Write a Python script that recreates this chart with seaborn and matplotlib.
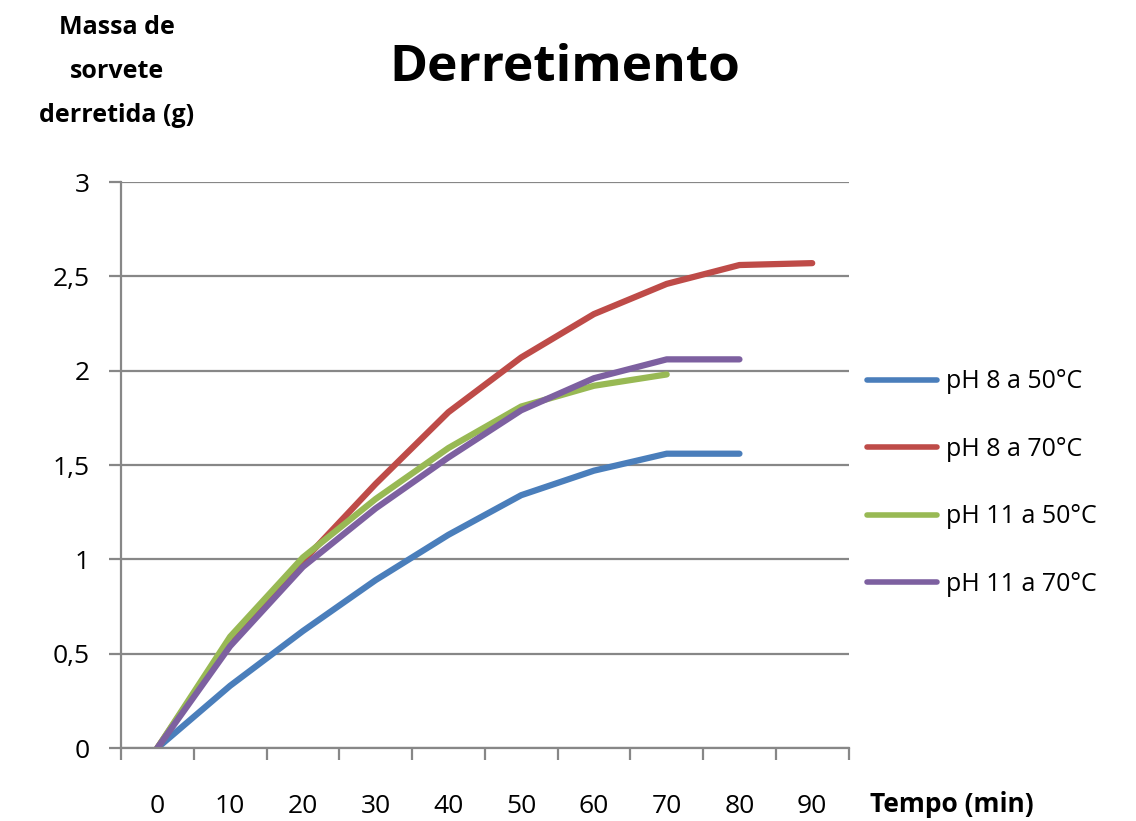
import pandas as pd
import seaborn as sns
import matplotlib.pyplot as plt
from matplotlib.ticker import FuncFormatter, FixedLocator

# --- dados ---
tempos = ['0', '10', '20', '30', '40', '50', '60', '70', '80', '90']
ph8_50 = [0, 0.33, 0.62, 0.89, 1.13, 1.34, 1.47, 1.56, 1.56]
ph8_70 = [0, 0.57, 0.99, 1.40, 1.78, 2.07, 2.30, 2.46, 2.56, 2.57]
ph11_50 = [0, 0.59, 1.01, 1.32, 1.59, 1.81, 1.92, 1.98]
ph11_70 = [0, 0.54, 0.96, 1.27, 1.54, 1.79, 1.96, 2.06, 2.06]

series = {
    'pH 8 a 50°C': ph8_50,
    'pH 8 a 70°C': ph8_70,
    'pH 11 a 50°C': ph11_50,
    'pH 11 a 70°C': ph11_70,
}
cores = ['#4A7EBB', '#BE4B48', '#98B954', '#7D60A0']

linhas = []
for nome, valores in series.items():
    for t, v in zip(tempos, valores):
        linhas.append({'Tempo': t, 'Massa': v, 'Serie': nome})
df = pd.DataFrame(linhas)

# --- grafico ---
sns.set_style('white')
plt.rcParams['font.family'] = ['Open Sans', 'DejaVu Sans']
plt.rcParams['text.color'] = 'black'

fig = plt.figure(figsize=(11.36, 8.21), dpi=100)
ax = fig.add_axes([0.1065, 0.0889, 0.6405, 0.6894])

sns.lineplot(data=df, x='Tempo', y='Massa', hue='Serie', palette=cores,
             linewidth=4.5, ax=ax, sort=False, solid_capstyle='round')

cinza = '#878787'
ax.set_xlim(-0.5, len(tempos) - 0.5)
ax.set_ylim(0, 3)
ax.set_yticks([0, 0.5, 1, 1.5, 2, 2.5, 3])
ax.yaxis.set_major_formatter(FuncFormatter(lambda v, p: f'{v:g}'.replace('.', ',')))
ax.grid(axis='y', color=cinza, linewidth=1.6)
ax.set_axisbelow(True)

ax.xaxis.set_minor_locator(FixedLocator([i - 0.5 for i in range(len(tempos) + 1)]))
ax.tick_params(axis='x', which='major', bottom=True, length=0, pad=33,
               labelsize=19, labelcolor='black')
ax.tick_params(axis='x', which='minor', bottom=True, length=8.5, width=1.6,
               color=cinza, direction='out')
ax.tick_params(axis='y', left=True, length=8.5, width=1.6, color=cinza, direction='out',
               pad=14, labelsize=19, labelcolor='black')

for lado in ['top', 'right']:
    ax.spines[lado].set_visible(False)
for lado in ['left', 'bottom']:
    ax.spines[lado].set_color(cinza)
    ax.spines[lado].set_linewidth(1.6)

ax.set_xlabel('')
ax.set_ylabel('')

fig.text(0.766, 0.02, 'Tempo (min)', fontsize=19, fontweight='bold', ha='left', va='center')
fig.text(0.103, 0.913, 'Massa de\nsorvete\nderretida (g)', fontsize=18, fontweight='bold',
         ha='center', va='center', linespacing=2.0)
fig.text(0.497, 0.917, 'Derretimento', fontsize=37, fontweight='bold', ha='center', va='center')

leg = ax.legend(loc='center left', bbox_to_anchor=(0.995, 0.468), frameon=False,
                fontsize=18, handlelength=2.8, labelspacing=1.7, handletextpad=0.35)
for linha in leg.get_lines():
    linha.set_linewidth(4)

plt.savefig('out.png', dpi=100)
